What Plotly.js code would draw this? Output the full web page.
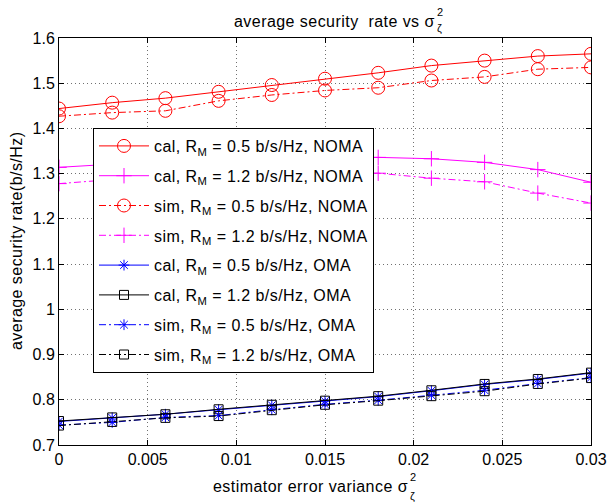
<!DOCTYPE html>
<html><head><meta charset="utf-8">
<script src="https://cdn.plot.ly/plotly-3.0.1.min.js"></script>
<style>
body{margin:0;background:#fff}#c{width:608px;height:504px}
text.legendtext, text.annotation-text{letter-spacing:0.45px}
</style>
</head><body><div id="c"></div>
<script>
const x = [0, 0.003, 0.006, 0.009, 0.012, 0.015, 0.018, 0.021, 0.024, 0.027, 0.03];
const calNoma05 = [1.444, 1.457, 1.467, 1.481, 1.496, 1.510, 1.523, 1.539, 1.550, 1.560, 1.565];
const calNoma12 = [1.314, 1.321, 1.326, 1.330, 1.333, 1.335, 1.336, 1.333, 1.325, 1.309, 1.281];
const simNoma05 = [1.427, 1.435, 1.439, 1.461, 1.474, 1.484, 1.490, 1.506, 1.514, 1.531, 1.535];
const simNoma12 = [1.278, 1.287, 1.292, 1.296, 1.299, 1.300, 1.301, 1.290, 1.282, 1.257, 1.235];
const calOma05 = [0.752, 0.760, 0.768, 0.778, 0.788, 0.797, 0.807, 0.820, 0.834, 0.845, 0.859];
const calOma12 = [0.753, 0.761, 0.768, 0.779, 0.789, 0.798, 0.808, 0.821, 0.835, 0.846, 0.860];
const simOma05 = [0.744, 0.750, 0.761, 0.765, 0.778, 0.790, 0.799, 0.810, 0.821, 0.836, 0.849];
const simOma12 = [0.743, 0.751, 0.760, 0.764, 0.777, 0.789, 0.798, 0.808, 0.819, 0.835, 0.848];
const names = [
 'cal, R<sub>M</sub> = 0.5 b/s/Hz, NOMA',
 'cal, R<sub>M</sub> = 1.2 b/s/Hz, NOMA',
 'sim, R<sub>M</sub> = 0.5 b/s/Hz, NOMA',
 'sim, R<sub>M</sub> = 1.2 b/s/Hz, NOMA',
 'cal, R<sub>M</sub> = 0.5 b/s/Hz, OMA',
 'cal, R<sub>M</sub> = 1.2 b/s/Hz, OMA',
 'sim, R<sub>M</sub> = 0.5 b/s/Hz, OMA',
 'sim, R<sub>M</sub> = 1.2 b/s/Hz, OMA'
];
const series = [calNoma05, calNoma12, simNoma05, simNoma12, calOma05, calOma12, simOma05, simOma12];
const colors = ['#ff0000', '#ff00ff', '#ff0000', '#ff00ff', '#0000ff', '#000000', '#0000ff', '#000000'];
const symbols = ['circle-open', 'cross-thin-open', 'circle-open', 'cross-thin-open', 'asterisk-open', 'square-open', 'asterisk-open', 'square-open'];
const sizes = [13, 11, 13, 11, 9, 9, 9, 9];
const dd = '7px,3px,2px,3px';
const dashes = ['solid', 'solid', dd, dd, 'solid', 'solid', dd, dd];

const traces = series.map((y, i) => ({
  x: x, y: y, name: names[i], type: 'scatter', mode: 'lines+markers',
  legendgroup: 'g' + i,
  line: {color: colors[i], width: 1, dash: dashes[i]},
  marker: {symbol: symbols[i], size: sizes[i], color: colors[i], line: {color: colors[i], width: 1}}
}));

const L = 59, R = 591, T = 38, B = 445;
const px2x = p => (p - L) / (R - L);
const px2y = p => (B - p) / (B - T);
const F = '"Liberation Sans", Arial, sans-serif';
const FS = 16;

const layout = {
  width: 608, height: 504,
  margin: {l: L, r: 608 - R, t: T, b: 504 - B},
  paper_bgcolor: '#fff', plot_bgcolor: '#fff',
  font: {family: F, size: FS, color: '#000'},
  showlegend: true,
  legend: {x: px2x(93), y: px2y(128), xanchor: 'left', yanchor: 'top',
    bordercolor: '#000', borderwidth: 1, bgcolor: '#fff',
    font: {family: F, size: FS, color: '#000'}, tracegroupgap: 6, traceorder: 'grouped', itemwidth: 50},
  xaxis: {range: [0, 0.03], dtick: 0.005, tick0: 0, showgrid: true, gridcolor: '#333', griddash: '1px,3px', gridwidth: 0.7,
    zeroline: false, showline: true, linecolor: '#000', linewidth: 1, mirror: 'ticks', ticks: 'inside', ticklen: 5, tickcolor: '#000',
    tickfont: {family: F, size: FS}},
  yaxis: {range: [0.7, 1.6], dtick: 0.1, tick0: 0.7, showgrid: true, gridcolor: '#333', griddash: '1px,3px', gridwidth: 0.7,
    zeroline: false, showline: true, linecolor: '#000', linewidth: 1, mirror: 'ticks', ticks: 'inside', ticklen: 5, tickcolor: '#000',
    tickfont: {family: F, size: FS}},
  annotations: [
    {xref: 'paper', yref: 'paper', x: px2x(17), y: px2y(241), xanchor: 'center', yanchor: 'middle', showarrow: false, textangle: -90,
     text: 'average security rate(b/s/Hz)', font: {family: F, size: FS}},
    {xref: 'paper', yref: 'paper', x: px2x(437), y: px2y(22), xanchor: 'right', yanchor: 'middle', showarrow: false,
     text: 'average security\u00a0 rate vs \u03c3', font: {family: F, size: FS}},
    {xref: 'paper', yref: 'paper', x: px2x(435), y: px2y(12.5), xanchor: 'left', yanchor: 'middle', showarrow: false,
     text: '2', font: {family: F, size: 11}},
    {xref: 'paper', yref: 'paper', x: px2x(435), y: px2y(28), xanchor: 'left', yanchor: 'middle', showarrow: false,
     text: '\u03b6', font: {family: F, size: 11}},
    {xref: 'paper', yref: 'paper', x: px2x(410), y: px2y(486), xanchor: 'right', yanchor: 'middle', showarrow: false,
     text: 'estimator error variance \u03c3', font: {family: F, size: FS}},
    {xref: 'paper', yref: 'paper', x: px2x(408), y: px2y(477), xanchor: 'left', yanchor: 'middle', showarrow: false,
     text: '2', font: {family: F, size: 11}},
    {xref: 'paper', yref: 'paper', x: px2x(408), y: px2y(496), xanchor: 'left', yanchor: 'middle', showarrow: false,
     text: '\u03b6', font: {family: F, size: 11}}
  ]
};
Plotly.newPlot('c', traces, layout, {displayModeBar: false, staticPlot: true});
</script></body></html>
